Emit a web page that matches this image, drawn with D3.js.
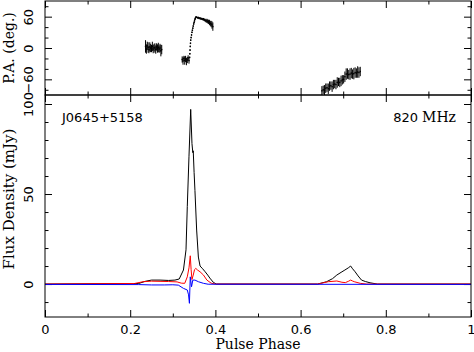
<!DOCTYPE html>
<html>
<head>
<meta charset="utf-8">
<script src="https://cdn.jsdelivr.net/npm/d3@7"></script>
<style>
  body { margin: 0; background: #fff; }
  svg { display: block; }
  .num { font-family: "DejaVu Sans", sans-serif; font-size: 13px; }
  .lab { font-family: "DejaVu Serif", serif; font-size: 14px; }
</style>
</head>
<body>
<svg id="graphique" width="474" height="352"></svg>
<script>
// ---- profile data (phase, mJy)
var iPhase = [0, 0.22, 0.235, 0.25, 0.27, 0.29, 0.305, 0.315, 0.325, 0.331, 0.334, 0.338, 0.342, 0.345, 0.347, 0.348, 0.350, 0.352, 0.356, 0.360, 0.364, 0.370, 0.376, 0.382, 0.387, 0.395, 0.402,
              0.64, 0.661, 0.675, 0.685, 0.695, 0.704, 0.712, 0.7175, 0.722, 0.728, 0.735, 0.743, 0.752, 0.763, 0.78, 1];
var iFlux  = [0, 0.3, 1.5, 2.2, 2.2, 2.0, 2.2, 2.8, 7.8, 19, 43, 71, 97, 78, 73, 74, 62, 52, 30, 15, 10, 8.5, 6.8, 5, 3.3, 1, 0,
              0, 1.3, 3, 5, 6.5, 7.8, 9, 10, 8.5, 6.8, 4.5, 2.2, 1.4, 0.7, 0, 0];

var lPhase = [0, 0.21, 0.23, 0.25, 0.27, 0.29, 0.31, 0.32, 0.328, 0.334, 0.338, 0.341, 0.343, 0.345, 0.348, 0.351, 0.354, 0.358, 0.364, 0.372, 0.380, 0.39, 0.40,
              0.64, 0.665, 0.685, 0.697, 0.705, 0.712, 0.7175, 0.722, 0.726, 0.74, 0.755, 1];
var lFlux  = [0, 0.3, 1.3, 1.6, 1.5, 1.4, 1.2, 0.5, 0.4, 4, 9, 15.7, 8, 2.5, 5, 8, 8.7, 7.8, 6.8, 5, 2.2, 0.5, 0,
              0, 1.3, 1.7, 1, 0.8, 1.5, 2.2, 1.7, 1.3, 0.4, 0, 0];

var vPhase = [0, 0.22, 0.25, 0.28, 0.30, 0.313, 0.325, 0.334, 0.337, 0.339, 0.341, 0.344, 0.347, 0.352, 0.360, 0.372, 0.383, 1];
var vFlux  = [-0.2, -0.3, -0.5, -0.5, -0.4, -0.6, -2.4, -3.3, -6, -10.7, 4, -1.5, 2.2, 2.2, 1.3, 0.4, -0.1, -0.2];

// ---- position angle (deg) with error bars
var paPhase = [0.236, 0.238, 0.240, 0.242, 0.244, 0.246, 0.248, 0.250, 0.252, 0.254, 0.256, 0.258, 0.260, 0.262, 0.264, 0.266, 0.268, 0.270, 0.272, 0.274,
               0.322, 0.324, 0.326, 0.328, 0.330, 0.332, 0.334, 0.336, 0.338,
               0.3395, 0.340, 0.3405, 0.341, 0.3415, 0.342, 0.343, 0.344, 0.345, 0.346, 0.347, 0.348, 0.349, 0.350, 0.351, 0.352, 0.353, 0.354,
               0.356, 0.358, 0.360, 0.362, 0.364, 0.366, 0.368, 0.370, 0.372, 0.374, 0.376, 0.378, 0.380, 0.382, 0.384, 0.386, 0.388, 0.390, 0.392, 0.394,
               0.650, 0.653, 0.656, 0.659, 0.662, 0.665, 0.668, 0.671, 0.674, 0.677, 0.680, 0.683, 0.686, 0.689, 0.692, 0.695, 0.698, 0.701, 0.704, 0.707,
               0.710, 0.713, 0.716, 0.719, 0.722, 0.725, 0.728, 0.731, 0.734, 0.737, 0.740];
var paAngle = [3, -2, 4, 1, -3, 2, 0, -1, 3, -2, 1, 0, -3, 2, -1, 1, -2, 0, -5, -3,
               -22, -25, -20, -24, -21, -26, -23, -19, -24,
               -18, -11, -4, 3, 9, 15, 20, 25, 30, 34, 38, 42, 46, 49, 52, 55, 57, 59,
               59, 58, 58, 57, 57, 56, 56, 55, 55, 54, 53, 52, 52, 51, 50, 49, 47, 46, 44, 41,
               -82, -80, -81, -77, -76, -78, -73, -72, -74, -70, -69, -70, -66, -65, -66, -63, -61, -60, -55, -50,
               -49, -51, -50, -48, -50, -49, -47, -48, -46, -47, -45];
var paError = [12, 9, 8, 10, 7, 9, 8, 7, 9, 8, 7, 9, 8, 7, 8, 9, 7, 8, 11, 9,
               6, 7, 5, 8, 6, 7, 6, 5, 6,
               1.5, 1.5, 1.5, 1.5, 1.5, 1.5, 1.5, 1.5, 1.5, 1.5, 1.5, 1.5, 1.5, 1.5, 1.5, 1.5, 1.5, 1.5,
               1.5, 1.5, 2, 2, 2, 2, 2, 2, 2.5, 2.5, 3, 3, 4, 4, 4, 5, 5, 6, 7, 8,
               9, 8, 10, 9, 8, 10, 9, 8, 10, 9, 8, 9, 10, 8, 9, 10, 9, 8, 10, 11,
               10, 9, 11, 10, 9, 11, 10, 9, 11, 10, 9];

var phaseTicks = [0, 0.2, 0.4, 0.6, 0.8, 1];
var phaseMinor = [0.1, 0.3, 0.5, 0.7, 0.9];
var paTicks = [-60, 0, 60];
var paMinor = [-80, -40, -20, 20, 40, 80];
var fluxTicks = [0, 50, 100];
var fluxMinor = [-10, 10, 20, 30, 40, 60, 70, 80, 90];

var psrName = "J0645+5158";
var freqNum = "820";
var freqUnit = "MHz";

// ---- layout
var graphique = d3.select("#graphique");
var LEFT = 45, RIGHT = 471;
var PA_TOP = 1, PA_BOT = 95, FL_TOP = 95, FL_BOT = 317;
var MAJ = 7, MIN = 3.5;

var xScale = d3.scaleLinear().domain([0, 1]).range([LEFT, RIGHT]);
var yPA = d3.scaleLinear().domain([-90, 90]).range([PA_BOT, PA_TOP]);
var yFlux = d3.scaleLinear().domain([-18.3, 105]).range([FL_BOT, FL_TOP]);

var defs = graphique.append("defs");
defs.append("clipPath").attr("id", "clipPA").append("rect")
    .attr("x", LEFT).attr("y", PA_TOP).attr("width", RIGHT - LEFT).attr("height", PA_BOT - PA_TOP);
defs.append("clipPath").attr("id", "clipFL").append("rect")
    .attr("x", LEFT).attr("y", FL_TOP).attr("width", RIGHT - LEFT).attr("height", FL_BOT - FL_TOP);

function noLabels(axis) { return axis.tickFormat(""); }

// ticks inside the frame of one panel
function drawFrameTicks(yScale, top, bottom, yMajor, yMinorVals) {
  var groups = [
    [d3.axisTop(xScale).tickValues(phaseTicks).tickSize(-MAJ), "translate(0," + top + ")"],
    [d3.axisTop(xScale).tickValues(phaseMinor).tickSize(-MIN), "translate(0," + top + ")"],
    [d3.axisBottom(xScale).tickValues(phaseMinor).tickSize(-MIN), "translate(0," + bottom + ")"],
    [d3.axisRight(yScale).tickValues(yMajor).tickSize(-MAJ), "translate(" + RIGHT + ",0)"],
    [d3.axisRight(yScale).tickValues(yMinorVals).tickSize(-MIN), "translate(" + RIGHT + ",0)"],
    [d3.axisLeft(yScale).tickValues(yMinorVals).tickSize(-MIN), "translate(" + LEFT + ",0)"]
  ];
  groups.forEach(function(g) {
    graphique.append("g").attr("transform", g[1]).call(noLabels(g[0]));
  });
}

function styleAxes() {
  graphique.selectAll(".domain").remove();
  graphique.selectAll(".tick line").attr("stroke", "#000").attr("stroke-width", 1);
}

// left axis with rotated labels
function drawLeftAxis(yScale, vals) {
  var g = graphique.append("g").attr("transform", "translate(" + LEFT + ",0)")
    .call(d3.axisLeft(yScale).tickValues(vals).tickSize(-MAJ));
  g.selectAll("text")
    .attr("class", "num")
    .attr("font-family", null).attr("font-size", null)
    .attr("fill", "#000")
    .attr("x", 0).attr("y", -12).attr("dy", 0)
    .attr("text-anchor", "middle")
    .attr("transform", "rotate(-90)");
}

//////////// top panel : position angle
drawFrameTicks(yPA, PA_TOP, PA_BOT, paTicks, paMinor);
graphique.append("g").attr("transform", "translate(0," + PA_BOT + ")")
  .call(noLabels(d3.axisBottom(xScale).tickValues(phaseTicks).tickSize(-MAJ)));
drawLeftAxis(yPA, paTicks);

var paLayer = graphique.append("g").attr("clip-path", "url(#clipPA)");
paPhase.forEach(function(p, i) {
  paLayer.append("line")
    .attr("x1", xScale(p)).attr("x2", xScale(p))
    .attr("y1", yPA(paAngle[i] - paError[i]))
    .attr("y2", yPA(paAngle[i] + paError[i]))
    .attr("stroke", "#000").attr("stroke-width", 1);
  paLayer.append("rect")
    .attr("x", xScale(p) - 0.7).attr("y", yPA(paAngle[i]) - 0.7)
    .attr("width", 1.4).attr("height", 1.4)
    .attr("fill", "#000");
});

//////////// bottom panel : flux density
drawFrameTicks(yFlux, FL_TOP, FL_BOT, fluxTicks, fluxMinor);
var xAxisBottom = graphique.append("g").attr("transform", "translate(0," + FL_BOT + ")")
  .call(d3.axisBottom(xScale).tickValues(phaseTicks).tickSize(-MAJ).tickPadding(8)
    .tickFormat(function(d) { return d3.format("~g")(d); }));
xAxisBottom.selectAll("text").attr("class", "num")
  .attr("font-family", null).attr("font-size", null).attr("fill", "#000");
drawLeftAxis(yFlux, fluxTicks);

var flLayer = graphique.append("g").attr("clip-path", "url(#clipFL)");
var series = [
  { phase: iPhase, flux: iFlux, couleur: "#000000" },
  { phase: lPhase, flux: lFlux, couleur: "#ff0000" },
  { phase: vPhase, flux: vFlux, couleur: "#0000ff" }
];
series.forEach(function(s) {
  var line = d3.line()
    .x(function(d, i) { return xScale(s.phase[i]); })
    .y(function(d) { return yFlux(d); });
  flLayer.append("path")
    .attr("d", line(s.flux))
    .attr("fill", "none")
    .attr("stroke", s.couleur)
    .attr("stroke-width", 1);
});

styleAxes();

// frames
[[PA_TOP, PA_BOT], [FL_TOP, FL_BOT]].forEach(function(b) {
  graphique.append("rect")
    .attr("x", LEFT).attr("y", b[0])
    .attr("width", RIGHT - LEFT).attr("height", b[1] - b[0])
    .attr("fill", "none").attr("stroke", "#000").attr("stroke-width", 1);
});

// labels
graphique.append("text").attr("class", "num")
  .attr("x", 62).attr("y", 122).text(psrName);
var freq = graphique.append("text").attr("x", 456).attr("y", 122).attr("text-anchor", "end");
freq.append("tspan").attr("class", "num").text(freqNum + " ");
freq.append("tspan").attr("class", "lab").text(freqUnit);

graphique.append("text").attr("class", "lab")
  .attr("x", (LEFT + RIGHT) / 2).attr("y", 349).attr("text-anchor", "middle")
  .text("Pulse Phase");
graphique.append("text").attr("class", "lab")
  .attr("transform", "translate(14," + ((PA_TOP + PA_BOT) / 2) + ") rotate(-90)")
  .attr("text-anchor", "middle").text("P.A. (deg.)");
graphique.append("text").attr("class", "lab")
  .attr("transform", "translate(14,199) rotate(-90)")
  .attr("text-anchor", "middle").attr("font-size", "15px").style("font-size", "15px")
  .text("Flux Density (mJy)");
</script>
</body>
</html>
